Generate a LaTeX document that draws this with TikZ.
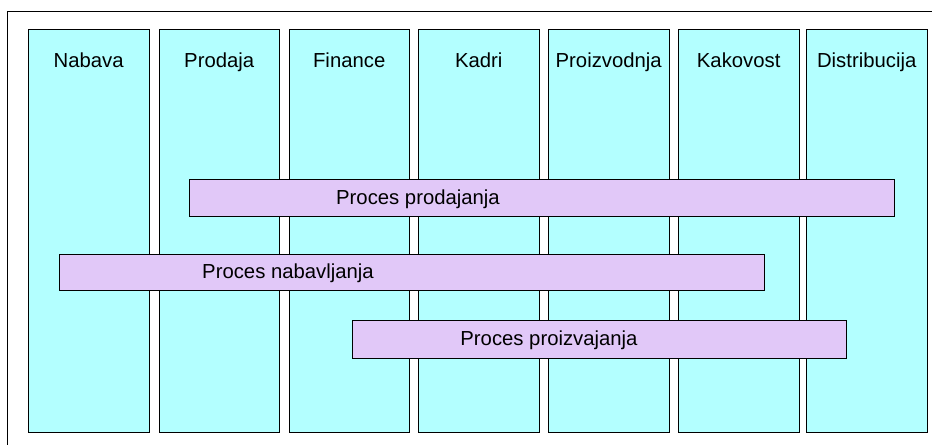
\documentclass[tikz,border=0pt]{standalone}
\usepackage{fontspec}
\setmainfont{Liberation Sans}
\usetikzlibrary{positioning}
\definecolor{laneblue}{RGB}{179,255,255}
\definecolor{proclilac}{RGB}{225,200,248}
\tikzset{
  lane/.style={draw=black, fill=laneblue, line width=0.9pt, anchor=north west,
    minimum width=120.5pt, minimum height=403pt, inner sep=0pt},
  proc/.style={draw=black, fill=proclilac, line width=0.9pt, anchor=north west,
    minimum height=37pt, inner sep=0pt},
  txt/.style={font=\fontsize{20.3}{24}\selectfont, inner sep=0pt, anchor=base}
}

\begin{document}
\begin{tikzpicture}[x=1pt, y=-1pt]
  \useasboundingbox (0,0) rectangle (932,445);
  % frame
  \draw[line width=1pt] (932,11) -| (7,445);
  % lanes
  \foreach \x/\nm/\lbl in {28/nab/Nabava, 158.5/prod/Prodaja, 288.5/fin/Finance,
      418/kad/Kadri, 548/proiz/Proizvodnja, 678/kak/Kakovost, 806/dist/Distribucija}{
    \node[lane] (\nm) at (\x,29) {};
    \node[txt] (\nm-t) at ([yshift=-38pt]\nm.north) {\lbl};
  }
  % processes
  \node[proc, minimum width=705pt] (prodajanje) at (189,179) {};
  \node[txt] (prodajanje-t) at (418,204.5) {Proces prodajanja};
  \node[proc, minimum width=705pt, minimum height=36pt] (nabavljanje) at (59,254) {};
  \node[txt] (nabavljanje-t) at (288,278.5) {Proces nabavljanja};
  \node[proc, minimum width=494pt, minimum height=38pt] (proizvajanje) at (352,320) {};
  \node[txt] (proizvajanje-t) at (549,345.5) {Proces proizvajanja};
\end{tikzpicture}
\end{document}
